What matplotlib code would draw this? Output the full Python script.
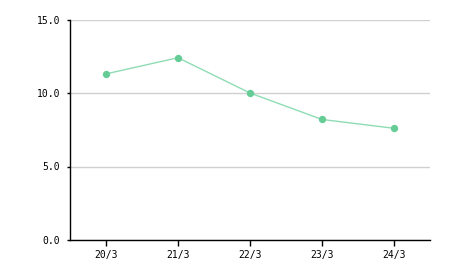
import matplotlib
matplotlib.use("Agg")
import matplotlib.pyplot as plt

categories = ["20/3", "21/3", "22/3", "23/3", "24/3"]
values = [11.3, 12.4, 10.0, 8.2, 7.6]
yticks = [0.0, 5.0, 10.0, 15.0]
ytick_labels = ["0.0", "5.0", "10.0", "15.0"]

fig = plt.figure(figsize=(4.5, 2.7), dpi=100)
ax = fig.add_axes([70/450, 30/270, 360/450, 220.5/270])

x = list(range(len(categories)))
ax.plot(x, values, color="#8fdcb4", linewidth=1.0, zorder=3)
ax.scatter(x, values, s=28, color="#66cc96", zorder=4, linewidths=0)

ax.set_xlim(-0.5, len(categories) - 0.5)
ax.set_ylim(0, 15)
ax.set_yticks(yticks)
ax.set_yticklabels(ytick_labels)
ax.set_xticks(x)
ax.set_xticklabels(categories)

ax.grid(axis="y", color="#d0d0d0", linewidth=1.0, zorder=0)
ax.set_axisbelow(True)
for s in ["top", "right"]:
    ax.spines[s].set_visible(False)
for s in ["left", "bottom"]:
    ax.spines[s].set_color("black")
    ax.spines[s].set_linewidth(1.0)

ax.tick_params(axis="y", length=2.5, width=1, labelsize=7, pad=4.5, colors="black")
ax.tick_params(axis="x", length=4, width=1, labelsize=7, pad=3, colors="black")
for lab in ax.get_xticklabels() + ax.get_yticklabels():
    lab.set_fontfamily("DejaVu Sans Mono")

fig.savefig("out.png", dpi=100)
